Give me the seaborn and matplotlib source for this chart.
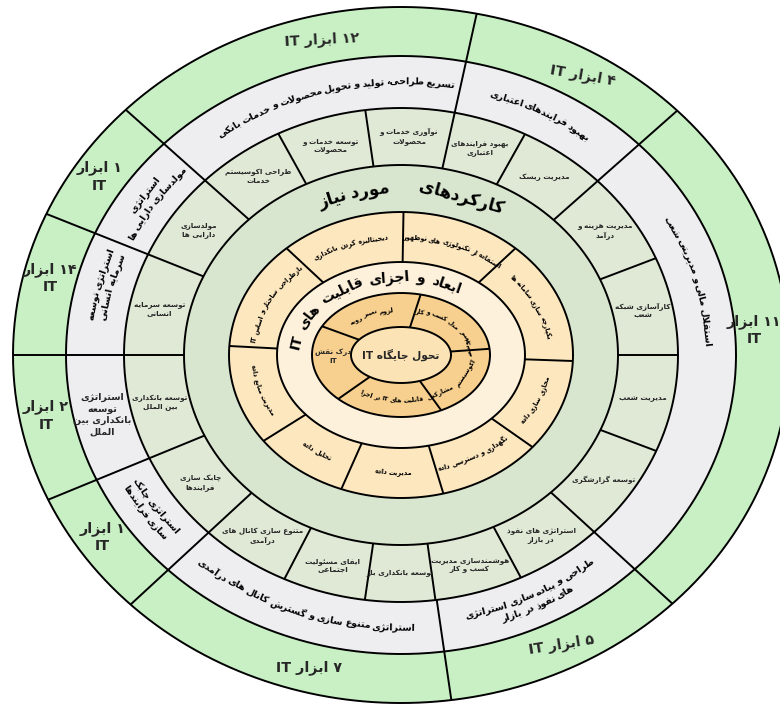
import numpy as np
import matplotlib
matplotlib.use("Agg")
import matplotlib.pyplot as plt
from matplotlib.textpath import TextPath
from matplotlib.font_manager import FontProperties
import seaborn as sns

# ---------------- data ----------------
# outer two rings: IT tool counts and strategies (same angular cells)
strategy_edges = [41.5, 77.5, 138.3, 158.3, 180.0, 202.3, 222.7, 278.3, 317.5]
it_tools = ["۴ ابزار IT", "۱۲ ابزار IT", "۱ ابزار\nIT", "۱۴ ابزار\nIT", "۲ ابزار\nIT",
            "۱ ابزار\nIT", "۷ ابزار IT", "۵ ابزار IT", "۱۱ ابزار\nIT"]
strategies = ["بهبود فرایندهای اعتباری",
              "تسریع طراحی، تولید و تحویل محصولات و خدمات بانکی",
              "استراتژی\nمولدسازی دارایی ها",
              "استراتژی توسعه\nسرمایه انسانی",
              "استراتژی\nتوسعه\nبانکداری بین\nالملل",
              "استراتژی چابک\nسازی فرایندها",
              "استراتژی متنوع سازی و گسترش کانال های درآمدی",
              "طراحی و پیاده سازی استراتژی\nهای نفوذ در بازار",
              "استقلال مالی و مدیریتی شعب"]

# third ring: sub programmes
program_edges = [0.0, 20.8, 41.5, 60.7, 77.5, 98.3, 119.0, 138.3, 158.3, 180.0,
                 202.3, 222.7, 242.5, 261.6, 278.0, 298.3, 317.5, 339.4]
programs = ["کارآسازی شبکه\nشعب", "مدیریت هزینه و\nدرآمد", "مدیریت ریسک",
            "بهبود فرایندهای\nاعتباری", "نوآوری خدمات و\nمحصولات", "توسعه خدمات و\nمحصولات",
            "طراحی اکوسیستم\nخدمات", "مولدسازی\nدارایی ها", "توسعه سرمایه\nانسانی",
            "توسعه بانکداری\nبین الملل", "چابک سازی\nفرایندها", "متنوع سازی کانال های\nدرآمدی",
            "ایفای مسئولیت\nاجتماعی", "توسعه بانکداری باز", "هوشمندسازی مدیریت\nکسب و کار",
            "استراتژی های نفوذ\nدر بازار", "توسعه گزارشگری", "مدیریت شعب"]

functions_title = ["کارکردهای", "مورد نیاز"]

# yellow ring: required functions
function_edges = [43, 89, 137, 177, 212, 246, 287, 325, 358]
functions = ["استفاده از تکنولوژی های نوظهور", "دیجیتالیزه کردن بانکداری",
             "بازطراحی ساختار و اساس IT", "مدیریت منابع داده", "تحلیل داده",
             "مدیریت داده", "نگهداری و دسترسی داده", "مجازی سازی داده",
             "یکپارچه سازی سامانه ها"]

dimensions_title = "ابعاد و اجزای قابلیت های IT"

# orange ring: IT capability dimensions
dimension_edges = [4, 72, 160, 215, 306]
dimensions = ["تغییر مدل کسب و کار", "لزوم تغییر رویه", "درک نقش\nIT",
              "قابلیت های IT در اجرا", "توسعه اکوسیستم مشارکتی"]

core_label = "تحول جایگاه IT"

# ---------------- layout ----------------
CX, CY = 401, 709 - 355
RINGS = [(388, 348), (335, 299), (277, 247), (217, 190), (172, 143), (124, 93), (89, 62), (50, 28)]
COLORS = ["#c8f0c4", "#eeeef1", "#dfe9d6", "#d8e6cf", "#fde7bf", "#fdf1dc", "#f7d08f", "#fbe3b5"]

tool_angle = [57, 104, 149.4, 167.6, 189.7, 211.4, 253.6, 298.9, 4]
tool_frac = [0.5, 0.5, 0.5, 0.5, 0.5, 0.5, 0.5, 0.5, 0.36]
tool_rot = [-10, 3, 0, 0, 0, 0, 0, 9, 0]
strat_angle = [60, 104.5, 148, 166.7, 191.3, 211.7, 248.8, 298.7, 14.5]
strat_mode = ["cw", "cw", "cw", "cw", "flat", "ccw", "ccw", "ccw", "cw"]
func_angle = [64.5, 114.5, 157, 194.5, 229, 266.5, 306, 341.5, 20.5]
dim_angle = [38, 126, 181, 258, 341]
dim_mode = ["cw", "cw", "flat", "ccw", "ccw"]

# ---------------- Persian shaping (no external reshaper available) ----------------
FORMS = {
    'ا': (0xFE8D, 0xFE8E, None, None), 'آ': (0xFE81, 0xFE82, None, None),
    'أ': (0xFE83, 0xFE84, None, None), 'إ': (0xFE87, 0xFE88, None, None),
    'ؤ': (0xFE85, 0xFE86, None, None), 'ئ': (0xFE89, 0xFE8A, 0xFE8B, 0xFE8C),
    'ب': (0xFE8F, 0xFE90, 0xFE91, 0xFE92), 'پ': (0xFB56, 0xFB57, 0xFB58, 0xFB59),
    'ت': (0xFE95, 0xFE96, 0xFE97, 0xFE98), 'ث': (0xFE99, 0xFE9A, 0xFE9B, 0xFE9C),
    'ج': (0xFE9D, 0xFE9E, 0xFE9F, 0xFEA0), 'چ': (0xFB7A, 0xFB7B, 0xFB7C, 0xFB7D),
    'ح': (0xFEA1, 0xFEA2, 0xFEA3, 0xFEA4), 'خ': (0xFEA5, 0xFEA6, 0xFEA7, 0xFEA8),
    'د': (0xFEA9, 0xFEAA, None, None), 'ذ': (0xFEAB, 0xFEAC, None, None),
    'ر': (0xFEAD, 0xFEAE, None, None), 'ز': (0xFEAF, 0xFEB0, None, None),
    'ژ': (0xFB8A, 0xFB8B, None, None), 'س': (0xFEB1, 0xFEB2, 0xFEB3, 0xFEB4),
    'ش': (0xFEB5, 0xFEB6, 0xFEB7, 0xFEB8), 'ص': (0xFEB9, 0xFEBA, 0xFEBB, 0xFEBC),
    'ض': (0xFEBD, 0xFEBE, 0xFEBF, 0xFEC0), 'ط': (0xFEC1, 0xFEC2, 0xFEC3, 0xFEC4),
    'ظ': (0xFEC5, 0xFEC6, 0xFEC7, 0xFEC8), 'ع': (0xFEC9, 0xFECA, 0xFECB, 0xFECC),
    'غ': (0xFECD, 0xFECE, 0xFECF, 0xFED0), 'ف': (0xFED1, 0xFED2, 0xFED3, 0xFED4),
    'ق': (0xFED5, 0xFED6, 0xFED7, 0xFED8), 'ک': (0xFB8E, 0xFB8F, 0xFB90, 0xFB91),
    'گ': (0xFB92, 0xFB93, 0xFB94, 0xFB95), 'ل': (0xFEDD, 0xFEDE, 0xFEDF, 0xFEE0),
    'م': (0xFEE1, 0xFEE2, 0xFEE3, 0xFEE4), 'ن': (0xFEE5, 0xFEE6, 0xFEE7, 0xFEE8),
    'ه': (0xFEE9, 0xFEEA, 0xFEEB, 0xFEEC), 'و': (0xFEED, 0xFEEE, None, None),
    'ی': (0xFBFC, 0xFBFD, 0xFBFE, 0xFBFF), 'ة': (0xFE93, 0xFE94, None, None),
}
LAM_ALEF = {'ا': (0xFEFB, 0xFEFC), 'آ': (0xFEF5, 0xFEF6), 'أ': (0xFEF7, 0xFEF8), 'إ': (0xFEF9, 0xFEFA)}


def joins_next(c):
    return c in FORMS and FORMS[c][2] is not None


def shape_line(s):
    out = []
    i, n = 0, len(s)
    while i < n:
        c = s[i]
        if c not in FORMS:
            if c != '\u200c':
                out.append(c)
            i += 1
            continue
        pj = i > 0 and joins_next(s[i - 1])
        if c == 'ل' and i + 1 < n and s[i + 1] in LAM_ALEF:
            iso, fin = LAM_ALEF[s[i + 1]]
            out.append(chr(fin if pj else iso))
            i += 2
            continue
        nj = FORMS[c][2] is not None and i + 1 < n and s[i + 1] in FORMS
        f = FORMS[c]
        if pj and nj:
            out.append(chr(f[3]))
        elif pj:
            out.append(chr(f[1]))
        elif nj:
            out.append(chr(f[2]))
        else:
            out.append(chr(f[0]))
        i += 1
    # right-to-left visual order, keeping latin / digit runs as they are
    tokens = []
    for ch in out:
        ltr = (ch.isascii() and ch.isalnum()) or ('\u06f0' <= ch <= '\u06f9')
        if ltr and tokens and tokens[-1][1]:
            tokens[-1][0] += ch
        else:
            tokens.append([ch, ltr])
    return ''.join(t[0] for t in reversed(tokens))


def shape(s):
    return '\n'.join(shape_line(l) for l in s.split('\n'))


# ---------------- geometry helpers ----------------
def ell_pt(phi, rx, ry):
    r = rx * ry / np.sqrt((ry * np.cos(phi)) ** 2 + (rx * np.sin(phi)) ** 2)
    return CX + r * np.cos(phi), CY + r * np.sin(phi)


def mid_ring(k, frac=0.5):
    return (RINGS[k + 1][0] + frac * (RINGS[k][0] - RINGS[k + 1][0]),
            RINGS[k + 1][1] + frac * (RINGS[k][1] - RINGS[k + 1][1]))


def fill_cell(a0, a1, k, color):
    ph = np.radians(np.linspace(a0, a1, 200))
    xo, yo = ell_pt(ph, *RINGS[k])
    if k + 1 < len(RINGS):
        xi, yi = ell_pt(ph[::-1], *RINGS[k + 1])
        xs, ys = np.concatenate([xo, xi]), np.concatenate([yo, yi])
    else:
        xs, ys = xo, yo
    ax.fill(xs, ys, color=color, lw=0, zorder=1)


def dividers(edges, k_out, k_in):
    for a in edges:
        ph = np.radians(a)
        x0, y0 = ell_pt(ph, *RINGS[k_out])
        x1, y1 = ell_pt(ph, *RINGS[k_in])
        ax.plot([x0, x1], [y0, y1], color="black", lw=1.4, zorder=3, solid_capstyle="butt")


def cells(edges):
    e = list(edges) + [edges[0] + 360]
    return [(e[i], e[i + 1]) for i in range(len(edges))]


def arc_text(s, phi_c, rx, ry, fs, cw=True, weight="bold", spacing=1.0):
    fp = FontProperties(family="DejaVu Sans", weight=weight, size=fs)
    k = 100 / 72
    lines = s.split('\n')
    lh = fs * k * 1.3
    sign = -1 if cw else 1
    for li, line in enumerate(lines):
        off = ((len(lines) - 1) / 2 - li) * lh
        if not cw:
            off = -off
        lrx, lry = rx + off, ry + off
        words = [w for w in shape_line(line).split(' ') if w]
        widths = [TextPath((0, 0), w, prop=fp).get_extents().width * k for w in words]
        sp = fs * 0.33 * k * spacing
        L = sum(widths) + sp * (len(words) - 1)
        phis = np.radians(phi_c) + np.linspace(-np.pi, np.pi, 4001)
        xs, ys = ell_pt(phis, lrx, lry)
        s_arr = np.concatenate([[0], np.cumsum(np.hypot(np.diff(xs), np.diff(ys)))])
        s0 = s_arr[2000]
        pos = -L / 2
        for w, ww in zip(words, widths):
            st = s0 + sign * (pos + ww / 2)
            ph = np.interp(st, s_arr, phis)
            x, y = ell_pt(ph, lrx, lry)
            x1, y1 = ell_pt(ph + sign * 0.002, lrx, lry)
            rot = np.degrees(np.arctan2(y1 - y, x1 - x))
            ax.text(x, y, w, rotation=rot, rotation_mode="anchor", ha="center", va="center",
                    fontproperties=fp, color="black", zorder=5)
            pos += ww + sp


def flat_text(s, phi, k, fs, rot=0, weight="bold", frac=0.5):
    x, y = ell_pt(np.radians(phi), *mid_ring(k, frac))
    ax.text(x, y, shape(s), ha="center", va="center", multialignment="center",
            fontsize=fs, fontweight=weight, rotation=rot, linespacing=1.3,
            family="DejaVu Sans", zorder=5)


# ---------------- drawing ----------------
sns.set_theme(style="white")
plt.rcParams['font.family'] = ['DejaVu Sans']

fig = plt.figure(figsize=(7.8, 7.09), dpi=100)
ax = fig.add_axes([0, 0, 1, 1])
ax.set_xlim(0, 780)
ax.set_ylim(0, 709)
ax.axis("off")

for a0, a1 in cells(strategy_edges):
    fill_cell(a0, a1, 0, COLORS[0])
    fill_cell(a0, a1, 1, COLORS[1])
for a0, a1 in cells(program_edges):
    fill_cell(a0, a1, 2, COLORS[2])
fill_cell(0, 360, 3, COLORS[3])
for a0, a1 in cells(function_edges):
    fill_cell(a0, a1, 4, COLORS[4])
fill_cell(0, 360, 5, COLORS[5])
for a0, a1 in cells(dimension_edges):
    fill_cell(a0, a1, 6, COLORS[6])
fill_cell(0, 360, 7, COLORS[7])

ring_ph = np.linspace(0, 2 * np.pi, 720)
for rx, ry in RINGS:
    xs, ys = ell_pt(ring_ph, rx, ry)
    ax.plot(xs, ys, color="black", lw=1.4, zorder=3)

dividers(strategy_edges, 0, 2)
dividers(program_edges, 2, 3)
dividers(function_edges, 4, 5)
dividers(dimension_edges, 6, 7)

# outer ring: IT tool counts
for lab, ang, rot, fr in zip(it_tools, tool_angle, tool_rot, tool_frac):
    flat_text(lab, ang, 0, 10.3, rot=rot, frac=fr)

# strategies
grx, gry = mid_ring(1)
for lab, ang, mode in zip(strategies, strat_angle, strat_mode):
    if mode == "flat":
        flat_text(lab, ang, 1, 6.8)
    else:
        arc_text(lab, ang, grx, gry, 6.8, cw=(mode == "cw"))

# programmes
for lab, (a0, a1) in zip(programs, cells(program_edges)):
    flat_text(lab, (a0 + a1) / 2, 2, 5.2)

# title of functions ring
frx, fry = mid_ring(3)
arc_text(functions_title[0], 69, frx, fry, 12)
arc_text(functions_title[1], 106.5, frx, fry, 12)

# functions
yrx, yry = mid_ring(4)
for lab, m in zip(functions, func_angle):
    arc_text(lab, m, yrx, yry, 4.7, cw=(0 < (m % 360) < 180))

# dimensions title
crx, cry = mid_ring(5)
arc_text(dimensions_title, 118, crx, cry, 10, spacing=1.8)

# dimensions
orx, ory = mid_ring(6)
for lab, ang, mode in zip(dimensions, dim_angle, dim_mode):
    if mode == "flat":
        flat_text(lab, ang, 6, 5.2, frac=0.45)
    else:
        arc_text(lab, ang, orx, ory, 4.5, cw=(mode == "cw"))

ax.text(CX, CY, shape(core_label), ha="center", va="center", fontsize=7.6,
        fontweight="bold", zorder=5)

fig.savefig("out.png", dpi=100)
